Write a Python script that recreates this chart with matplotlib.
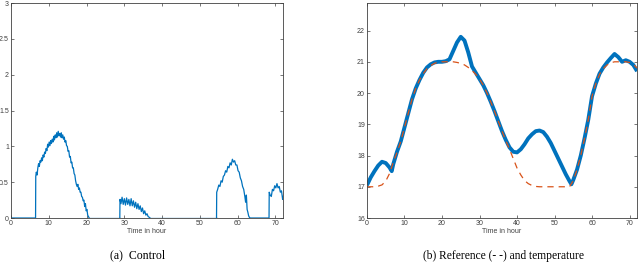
import numpy as np
import matplotlib
matplotlib.use("Agg")
import matplotlib.pyplot as plt

# ---- (a) control signal -----------------
bump1_t = [0, 6.5, 6.55, 6.7, 6.9, 7.1, 7.3, 7.5, 7.7, 7.9, 8.1, 8.3, 8.5, 8.7,
           8.9, 9.1, 9.3, 9.5, 9.7, 9.9, 10.1, 10.3, 10.5, 10.7, 10.9, 11.1,
           11.3, 11.5, 11.7, 11.9, 12.1, 12.3, 12.5, 12.7, 12.9, 13.1, 13.3,
           13.5, 13.7, 13.9, 14.1, 14.3, 14.5, 14.7, 14.9, 15.1, 15.3, 15.5,
           15.7, 15.9, 16.1, 16.3, 16.5, 16.7, 16.9, 17.1, 17.3, 17.5, 17.7,
           17.9, 18.1, 18.3, 18.5, 18.7, 18.9, 19.1, 19.3, 19.5, 19.7, 19.9,
           20.1, 20.3, 20.5, 20.7]
bump1_u = [0, 0, 0.58, 0.64, 0.60, 0.70, 0.76, 0.72, 0.80, 0.78, 0.84, 0.80,
           0.88, 0.85, 0.92, 0.90, 0.97, 0.94, 1.03, 0.99, 1.06, 1.01, 1.08,
           1.04, 1.10, 1.06, 1.14, 1.09, 1.16, 1.12, 1.19, 1.13, 1.21, 1.15,
           1.18, 1.13, 1.19, 1.12, 1.16, 1.10, 1.13, 1.06, 1.08, 1.01, 1.00,
           0.93, 0.94, 0.85, 0.86, 0.77, 0.78, 0.70, 0.70, 0.62, 0.60, 0.52,
           0.47, 0.44, 0.47, 0.40, 0.42, 0.36, 0.36, 0.30, 0.29, 0.24, 0.25,
           0.16, 0.20, 0.10, 0.12, 0.04, 0.02, 0]
bump2_t = [28.8, 28.85, 29.1, 29.4, 29.7, 30.0, 30.3, 30.6, 30.9, 31.2, 31.5,
           31.8, 32.1, 32.4, 32.7, 33.0, 33.3, 33.6, 33.9, 34.2, 34.5, 34.8,
           35.1, 35.4, 35.7, 36.0, 36.3, 36.6, 36.8]
bump2_u = [0, 0.26, 0.20, 0.29, 0.19, 0.27, 0.18, 0.28, 0.19, 0.26, 0.17,
           0.27, 0.17, 0.24, 0.15, 0.22, 0.13, 0.20, 0.12, 0.17, 0.09, 0.14,
           0.06, 0.10, 0.04, 0.06, 0.02, 0.01, 0]
bump3_t = [54.4, 54.45, 54.7, 55.0, 55.3, 55.6, 55.9, 56.2, 56.5, 56.8, 57.1,
           57.4, 57.7, 58.0, 58.3, 58.6, 58.9, 59.2, 59.5, 59.8, 60.1, 60.4,
           60.7, 61.0, 61.3, 61.6, 61.9, 62.1, 62.3, 62.5, 62.7, 62.9, 63.2]
bump3_u = [0, 0.36, 0.40, 0.46, 0.44, 0.52, 0.50, 0.58, 0.60, 0.66, 0.64,
           0.72, 0.70, 0.77, 0.74, 0.82, 0.78, 0.80, 0.74, 0.74, 0.66, 0.64,
           0.56, 0.52, 0.44, 0.40, 0.30, 0.22, 0.32, 0.12, 0.08, 0.03, 0]
bump4_t = [63.2, 68.3, 68.35, 68.6, 68.9, 69.2, 69.5, 69.8, 70.1, 70.4, 70.7,
           71.0, 71.3, 71.6, 71.9, 72.0]
bump4_u = [0, 0, 0.36, 0.32, 0.30, 0.40, 0.38, 0.45, 0.42, 0.48, 0.42, 0.44,
           0.36, 0.38, 0.26, 0.30]

# ---- (b) reference (dashed) and measured temperature ------------------------
ref_t = list(range(0, 73))
ref_T = [17.0, 17.0, 17.0, 17.02, 17.06, 17.18, 17.42, 17.78, 18.1, 18.45,
         18.9, 19.35, 19.8, 20.15, 20.42, 20.62, 20.78, 20.88, 20.95, 20.99,
         21.0, 21.0, 21.0, 21.0, 20.98, 20.95, 20.9, 20.82, 20.72, 20.6,
         20.45, 20.25, 20.0, 19.72, 19.42, 19.1, 18.78, 18.48, 18.2, 17.9,
         17.6, 17.38, 17.2, 17.1, 17.04, 17.01, 17.0, 17.0, 17.0, 17.0, 17.0,
         17.0, 17.0, 17.0, 17.0, 17.2, 17.55, 18.0, 18.55, 19.15, 19.9, 20.3,
         20.6, 20.78, 20.9, 20.97, 21.0, 21.0, 21.0, 21.0, 20.98, 20.92, 20.8]
temp_t = [0, 1, 2, 3, 4, 5, 6, 6.6, 7, 8, 9, 10, 11, 12, 13, 14, 15, 16, 17,
          18, 19, 20, 21, 22, 23, 24, 25, 26, 27, 28, 29, 30, 31, 32, 33, 34,
          35, 36, 37, 38, 39, 40, 41, 42, 43, 44, 45, 46, 47, 48, 49, 50, 51,
          52, 53, 54, 54.5, 55, 56, 57, 58, 59, 60, 61, 62, 63, 64, 65, 66, 67,
          68, 69, 70, 71, 72]
temp_T = [17.05, 17.3, 17.5, 17.68, 17.8, 17.76, 17.62, 17.5, 17.72, 18.12,
          18.45, 18.9, 19.35, 19.8, 20.15, 20.42, 20.65, 20.82, 20.92, 20.98,
          21.0, 21.0, 21.02, 21.08, 21.35, 21.62, 21.8, 21.68, 21.3, 20.85,
          20.65, 20.45, 20.25, 20.0, 19.72, 19.42, 19.1, 18.78, 18.5, 18.26,
          18.12, 18.1, 18.2, 18.36, 18.55, 18.68, 18.78, 18.8, 18.75, 18.6,
          18.4, 18.15, 17.9, 17.65, 17.4, 17.18, 17.08, 17.22, 17.55, 18.0,
          18.55, 19.15, 19.9, 20.3, 20.62, 20.82, 20.98, 21.12, 21.25, 21.15,
          21.0, 21.05, 21.0, 20.9, 20.7]

BLUE = "#0072BD"
ORANGE = "#D95319"
plt.rcParams["font.family"] = ["Liberation Sans", "DejaVu Sans"]

fig = plt.figure(figsize=(6.4, 2.67), dpi=100)
axa = fig.add_axes([0.0172, 0.1835, 0.425, 0.805])
axb = fig.add_axes([0.5734, 0.1835, 0.422, 0.805])

for bt, bu in [(bump1_t, bump1_u), (bump2_t, bump2_u),
               (bump3_t, bump3_u), (bump4_t, bump4_u)]:
    axa.plot(bt, bu, color=BLUE, lw=0.9)
# zero stretches between the bumps
axa.plot([bump1_t[-1], bump2_t[0]], [0, 0], color=BLUE, lw=0.9)
axa.plot([bump2_t[-1], bump3_t[0]], [0, 0], color=BLUE, lw=0.9)
axa.set_ylim(0, 3)
axa.set_yticks([0, 0.5, 1, 1.5, 2, 2.5, 3])
axa.set_yticklabels(["0", "0.5", "1", "1.5", "2", "2.5", "3"])

axb.plot(temp_t, temp_T, color=BLUE, lw=2.8, solid_capstyle="butt")
axb.plot(ref_t, ref_T, color=ORANGE, lw=0.9, ls=(0, (5, 4)))
axb.set_ylim(16, 22.88)
axb.set_yticks([16, 17, 18, 19, 20, 21, 22])

for ax in (axa, axb):
    ax.set_xlim(0, 72)
    ax.set_xticks(range(0, 71, 10))
    ax.tick_params(direction="in", length=2.5, width=0.5, labelsize=5,
                   colors="#404040", top=True, right=True, pad=1.5)
    for s in ax.spines.values():
        s.set_linewidth(0.6)
        s.set_color("#404040")
    ax.set_xlabel("Time in hour", fontsize=5, color="#404040", labelpad=1)

fig.text(0.2156, 0.02, "(a)  Control", family="Liberation Serif",
         fontsize=8.5, ha="center", va="bottom")
fig.text(0.786, 0.02, "(b) Reference (- -) and temperature",
         family="Liberation Serif", fontsize=8.3, ha="center", va="bottom")

fig.savefig("out.png", dpi=100)
